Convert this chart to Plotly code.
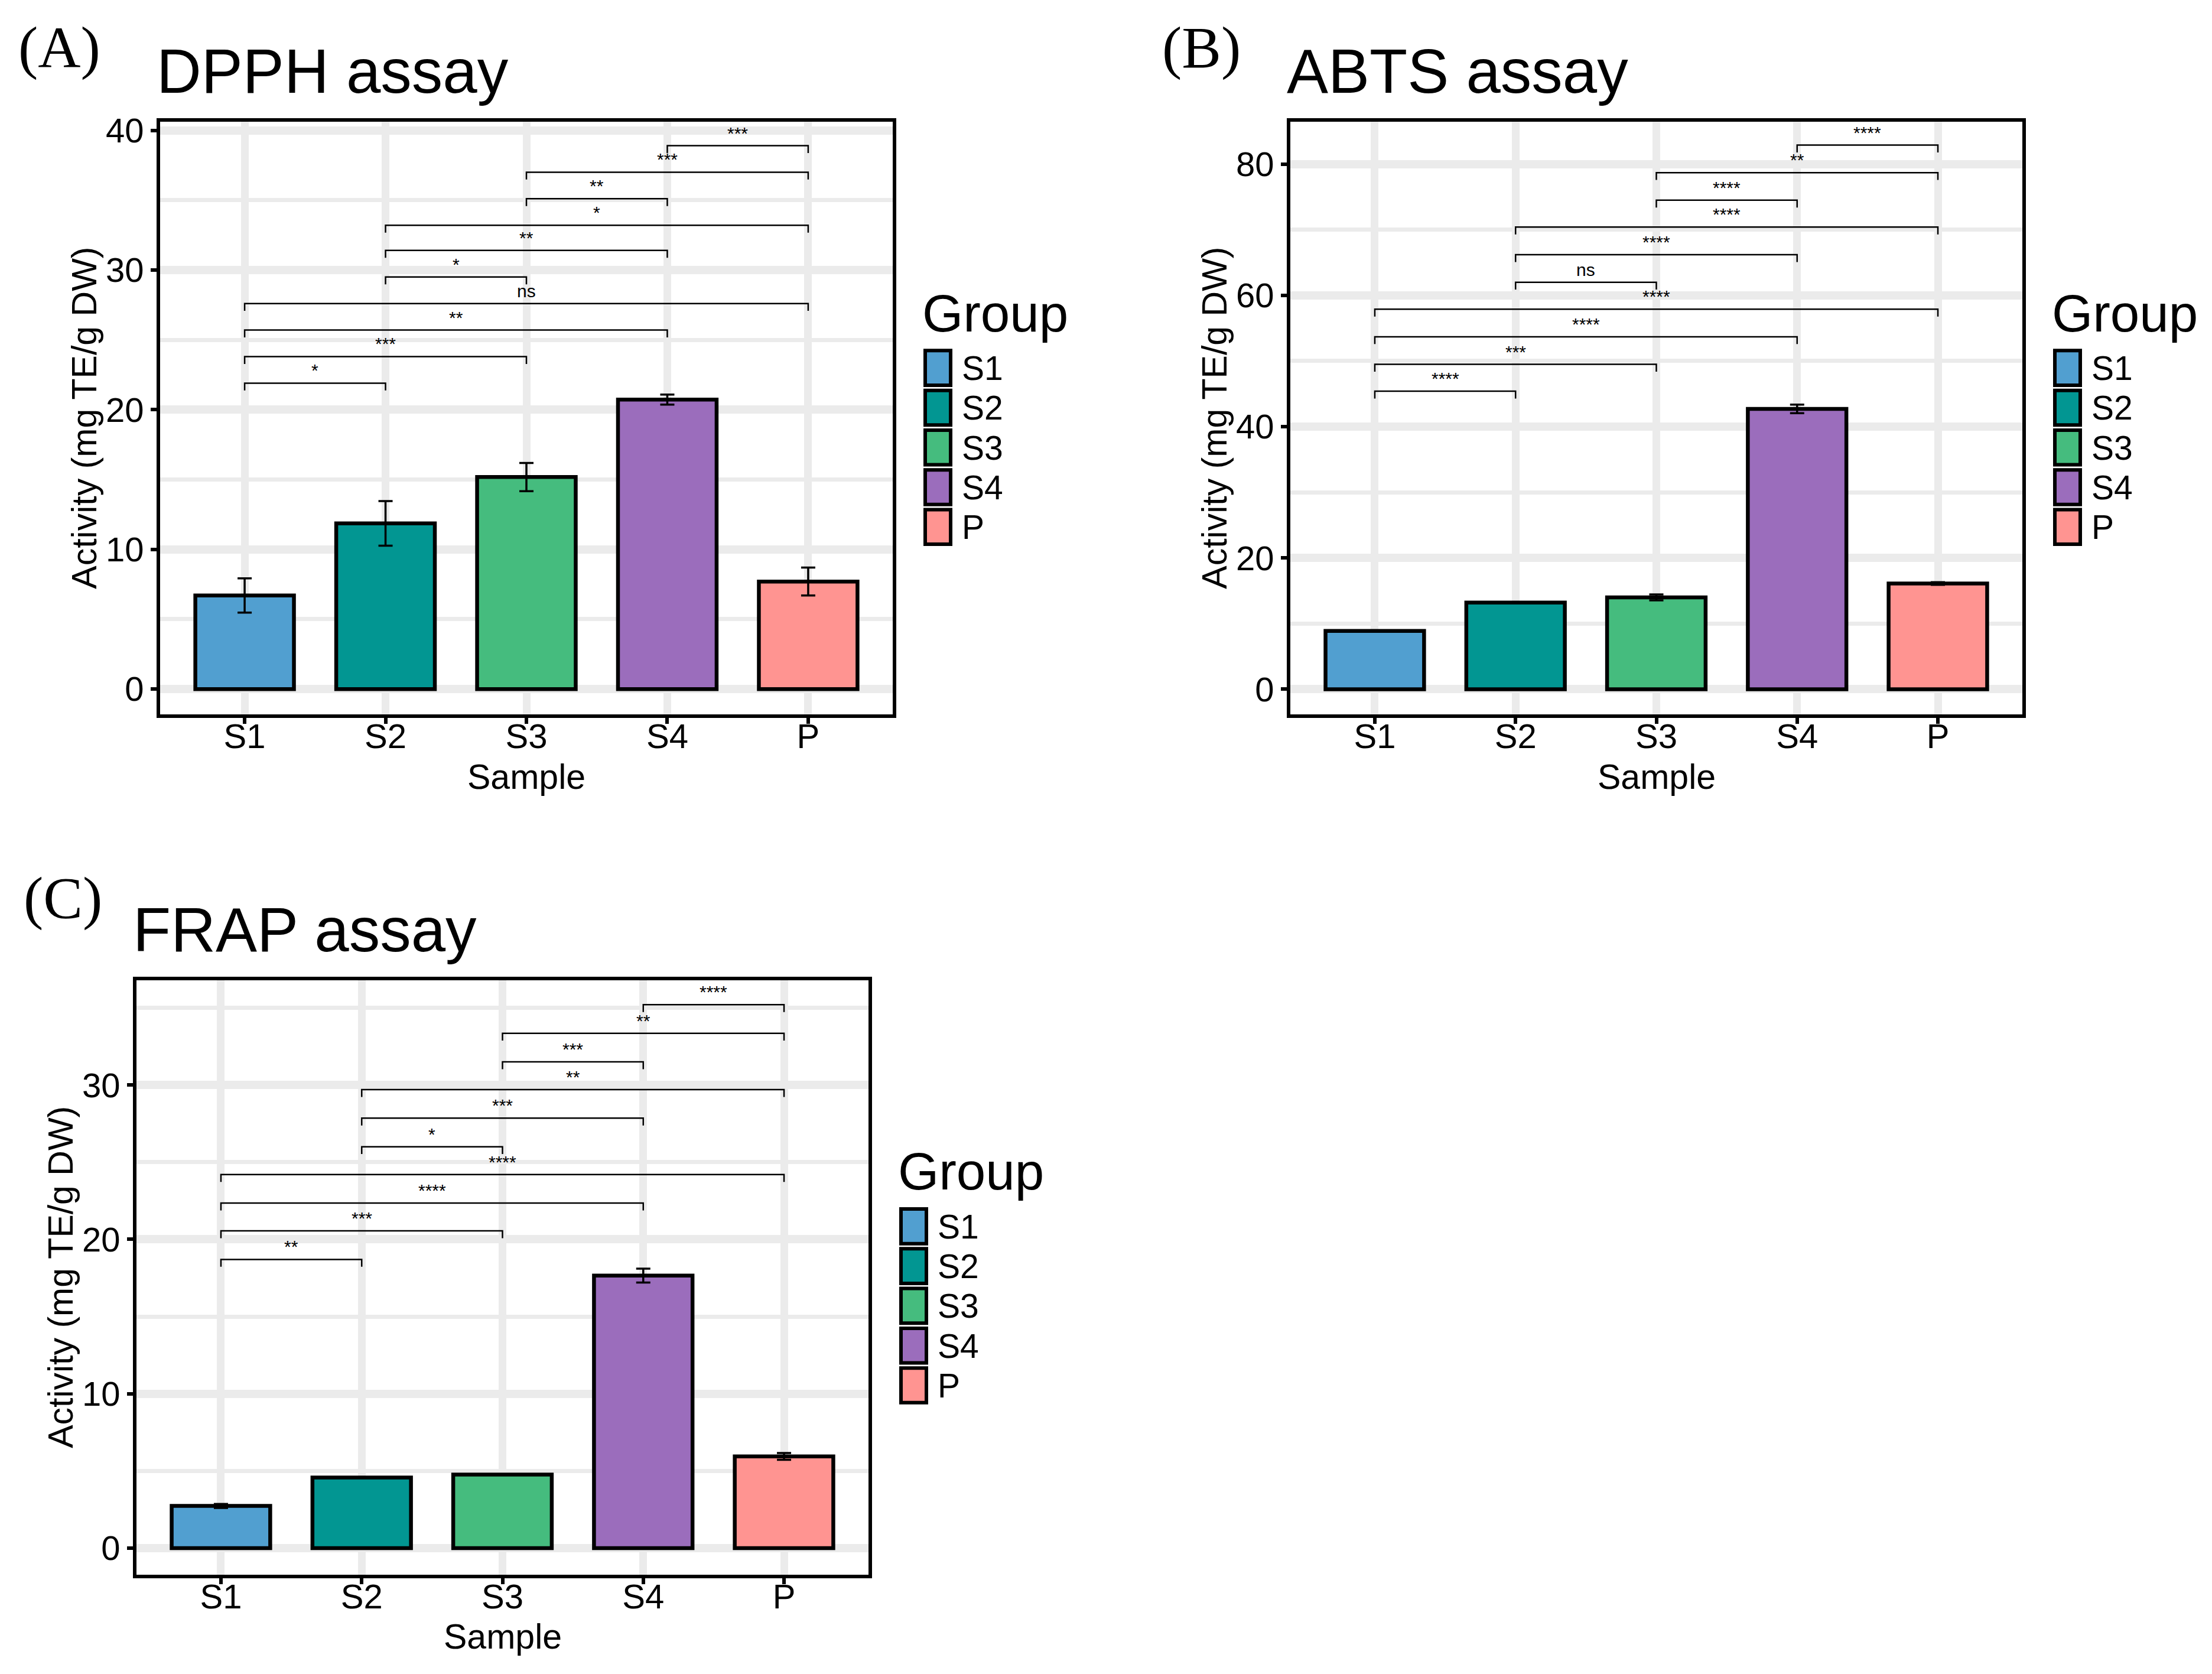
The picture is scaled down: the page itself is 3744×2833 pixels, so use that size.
import plotly.graph_objects as go

W, H = 3744, 2833

categories = ["S1", "S2", "S3", "S4", "P"]
colors = ["#519FD0", "#029692", "#45BC7E", "#9B6DBC", "#FF9491"]

dpph_mean = [6.70, 11.86, 15.18, 20.72, 7.70]
dpph_sd = [1.23, 1.60, 1.01, 0.36, 1.00]
abts_mean = [8.88, 13.20, 14.00, 42.70, 16.10]
abts_sd = [0.05, 0.05, 0.45, 0.65, 0.20]
frap_mean = [2.73, 4.57, 4.76, 17.65, 5.94]
frap_sd = [0.13, 0.03, 0.02, 0.45, 0.22]

pairs = [("S1", "S2"), ("S1", "S3"), ("S1", "S4"), ("S1", "P"), ("S2", "S3"),
         ("S2", "S4"), ("S2", "P"), ("S3", "S4"), ("S3", "P"), ("S4", "P")]
dpph_sig = ["*", "***", "**", "ns", "*", "**", "*", "**", "***", "***"]
dpph_bracket_y = [21.9, 23.8, 25.7, 27.6, 29.5, 31.4, 33.2, 35.1, 37.0, 38.9]
abts_sig = ["****", "***", "****", "****", "ns", "****", "****", "****", "**", "****"]
abts_bracket_y = [45.4, 49.5, 53.7, 57.9, 62.0, 66.2, 70.4, 74.5, 78.7, 82.9]
frap_sig = ["**", "***", "****", "****", "*", "***", "**", "***", "**", "****"]
frap_bracket_y = [18.7, 20.55, 22.35, 24.2, 26.0, 27.85, 29.7, 31.5, 33.35, 35.2]

# small page-offset compensation (px)
DX = -5
panels = [
    dict(tag="(A)", title="DPPH assay", mean=dpph_mean, sd=dpph_sd, sig=dpph_sig,
         by=dpph_bracket_y, box=(268, 1508, 200, 1210), yr=[-1.83, 40.62],
         ticks=[0, 10, 20, 30, 40], minor=5, tagpos=(97, 84), dy=-19),
    dict(tag="(B)", title="ABTS assay", mean=abts_mean, sd=abts_sd, sig=abts_sig,
         by=abts_bracket_y, box=(2181, 3420, 200, 1210), yr=[-3.87, 86.47],
         ticks=[0, 20, 40, 60, 80], minor=10, tagpos=(2031, 84), dy=-19),
    dict(tag="(C)", title="FRAP assay", mean=frap_mean, sd=frap_sd, sig=frap_sig,
         by=frap_bracket_y, box=(228, 1467, 1654, 2667), yr=[-1.73, 36.8],
         ticks=[0, 10, 20, 30], minor=5, tagpos=(103, 1524), dy=-11),
]

FONT = "Liberation Sans"
SERIF = "Liberation Serif"
GRID = "#EBEBEB"


def fx(px):
    return (px + DX) / W


def fy(py):
    return 1 - py / H


fig = go.Figure()
annotations = []
shapes = []

for i, p in enumerate(panels):
    n = "" if i == 0 else str(i + 1)
    xa, ya = "x" + n, "y" + n
    left, right, top, bottom = p["box"]
    dy = p["dy"]
    top_s, bottom_s = top + dy, bottom + dy

    fig.add_trace(go.Bar(
        x=categories, y=p["mean"], width=0.7,
        marker=dict(color=colors, line=dict(color="black", width=6.5)),
        error_y=dict(type="data", array=p["sd"], color="black", thickness=3.5, width=12),
        xaxis=xa, yaxis=ya, showlegend=False, hoverinfo="skip",
    ))

    px_per_unit = (bottom - top) / (p["yr"][1] - p["yr"][0])
    t = 12.5 / px_per_unit
    bx, byy = [], []
    for (a, b), yb in zip(pairs, p["by"]):
        bx += [a, a, b, b, None]
        byy += [yb - t, yb, yb, yb - t, None]
    fig.add_trace(go.Scatter(
        x=bx, y=byy, mode="lines", line=dict(color="black", width=2.5),
        xaxis=xa, yaxis=ya, showlegend=False, hoverinfo="skip",
    ))
    for (a, b), yb, s in zip(pairs, p["by"], p["sig"]):
        xm = (categories.index(a) + categories.index(b)) / 2
        annotations.append(dict(
            x=xm, y=yb, xref=xa, yref=ya, text=s, showarrow=False,
            yanchor="bottom", xanchor="center", yshift=3,
            font=dict(family=FONT, size=30, color="black"),
        ))

    axis_common = dict(
        showline=True, mirror=True, linecolor="black", linewidth=6,
        ticks="outside", ticklen=10, tickwidth=6, tickcolor="black",
        showgrid=True, gridcolor=GRID, zeroline=False,
        tickfont=dict(family=FONT, size=58, color="black"),
    )
    fig.layout["xaxis" + n] = dict(
        axis_common, domain=[fx(left), fx(right)], anchor=ya,
        type="category", categoryorder="array", categoryarray=categories,
        range=[-0.6, 4.6], gridwidth=12.6, ticklabelstandoff=-29,
    )
    fig.layout["yaxis" + n] = dict(
        axis_common, domain=[fy(bottom_s), fy(top_s)], anchor=xa,
        range=p["yr"], tickvals=p["ticks"], gridwidth=13.6,
        minor=dict(dtick=p["minor"], tick0=0, showgrid=True, gridcolor=GRID, gridwidth=6.5),
    )

    # panel tag
    annotations.append(dict(
        x=fx(p["tagpos"][0]), y=fy(p["tagpos"][1] + dy - 10), xref="paper", yref="paper",
        text=p["tag"], showarrow=False, xanchor="center", yanchor="middle",
        font=dict(family=SERIF, size=100, color="black"),
    ))
    # title
    annotations.append(dict(
        x=fx(left - 8), y=fy(top_s - 86), xref="paper", yref="paper",
        text=p["title"], showarrow=False, xanchor="left", yanchor="middle",
        font=dict(family=FONT, size=105, color="black"),
    ))
    # axis titles
    annotations.append(dict(
        x=fx((left + right) / 2), y=fy(bottom_s + 106), xref="paper", yref="paper",
        text="Sample", showarrow=False, xanchor="center", yanchor="middle",
        font=dict(family=FONT, size=59, color="black"),
    ))
    annotations.append(dict(
        x=fx(left - 128), y=fy((top_s + bottom_s) / 2), xref="paper", yref="paper",
        text="Activity (mg TE/g DW)", showarrow=False, textangle=-90,
        xanchor="center", yanchor="middle",
        font=dict(family=FONT, size=59, color="black"),
    ))

    # legend (drawn manually)
    kl = right + 52
    annotations.append(dict(
        x=fx(kl - 4), y=fy(top_s + 326), xref="paper", yref="paper",
        text="Group", showarrow=False, xanchor="left", yanchor="middle",
        font=dict(family=FONT, size=89, color="black"),
    ))
    for k, (cat, col) in enumerate(zip(categories, colors)):
        kt = top_s + 387 + 67.7 * k
        shapes.append(dict(
            type="rect", xref="paper", yref="paper",
            x0=fx(kl + 3), x1=fx(kl + 46), y0=fy(kt + 3), y1=fy(kt + 62),
            fillcolor=col, line=dict(color="black", width=6),
        ))
        annotations.append(dict(
            x=fx(kl + 64), y=fy(kt + 33), xref="paper", yref="paper",
            text=cat, showarrow=False, xanchor="left", yanchor="middle",
            borderpad=0,
            font=dict(family=FONT, size=57, color="black"),
        ))

fig.update_layout(
    width=W, height=H, margin=dict(l=0, r=0, t=0, b=0),
    paper_bgcolor="white", plot_bgcolor="white",
    font=dict(family=FONT, color="black"),
    annotations=annotations, shapes=shapes, showlegend=False,
)

fig.write_html("out.html")
